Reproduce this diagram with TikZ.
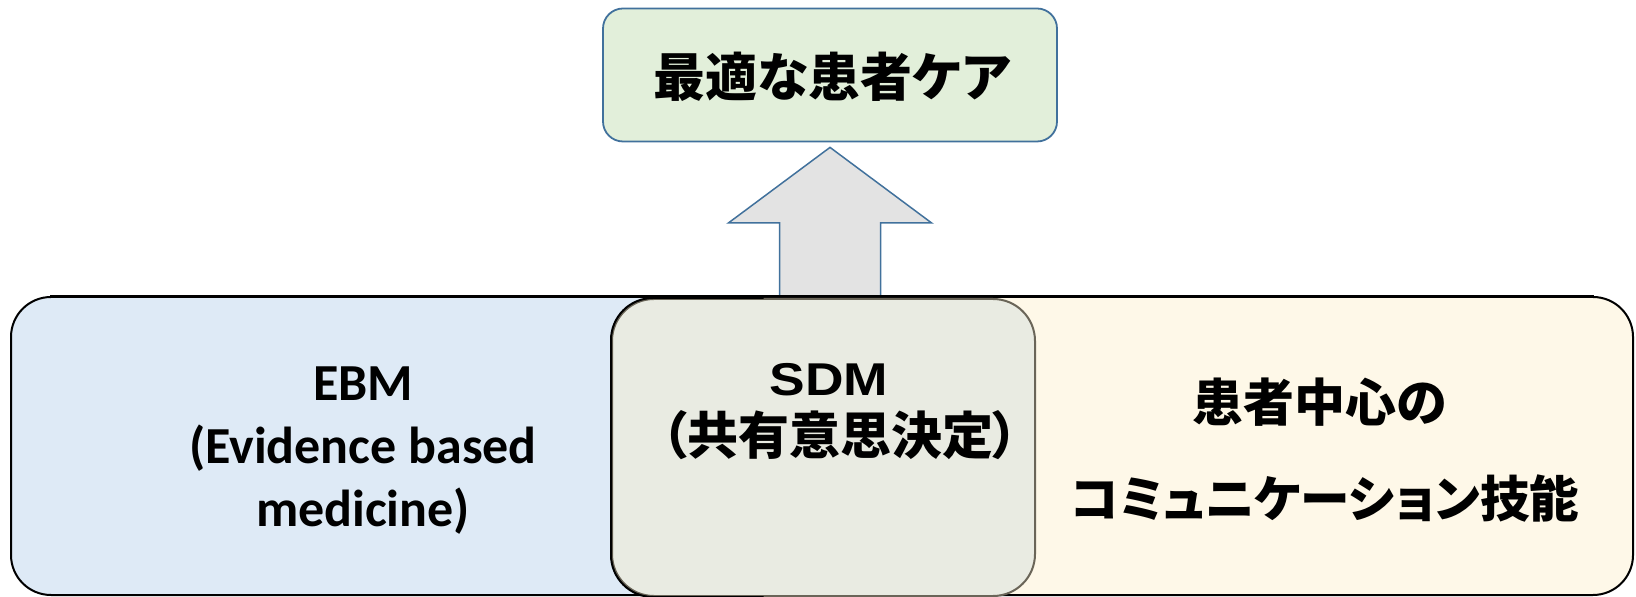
\documentclass[tikz,border=0pt]{standalone}
\usepackage{fontspec}
\usepackage{graphicx}
\newfontfamily\cjk[RawFeature=+palt]{Noto Sans CJK JP}
\newfontfamily\calib{Carlito}
\newfontfamily\libsans{Liberation Sans}
\usetikzlibrary{calc}
\definecolor{careFill}{HTML}{E2EFDA}
\definecolor{careLine}{HTML}{41719C}
\definecolor{arrowFill}{HTML}{E3E3E3}
\definecolor{ebmFill}{HTML}{DEEAF6}
\definecolor{pcFill}{HTML}{FEF8E8}
\definecolor{sdmFill}{HTML}{E9EBE2}
\definecolor{sdmLine}{HTML}{6A6558}
\tikzset{
  bigbox/.style={draw=black, line width=1pt, rounded corners=20pt, inner sep=0pt},
  label/.style={inner sep=0pt, align=center, text=black},
  cjkbig/.style={font=\cjk\bfseries\fontsize{26pt}{30pt}\selectfont},
}
\begin{document}
\begin{tikzpicture}[x=0.5pt,y=-0.5pt]
\useasboundingbox (0,0) rectangle (1636,597);
% top box
\node[draw=careLine, fill=careFill, line width=0.9pt, rounded corners=10pt,
      minimum width=227pt, minimum height=66.5pt, inner sep=0pt] (care) at (830,75) {};
\node[label, cjkbig] (caretxt) at ($(care.center)+(2,2)$) {最適な患者ケア};
% bottom boxes
\node[bigbox, fill=ebmFill, minimum width=444.5pt, minimum height=149pt] (ebm) at (455.5,446) {};
\node[bigbox, fill=pcFill, minimum width=466.5pt, minimum height=149pt] (pc) at (1166.5,446) {};
% arrow
\coordinate (atip) at ($(care.south)+(0,5)$);
\coordinate (abase) at (atip |- ebm.north);
\draw[draw=careLine, fill=arrowFill, line width=0.75pt]
  ($(abase)+(-50.5,0)$) -- ($(atip)+(-50.5,75.5)$) -- ($(atip)+(-101.5,75.5)$) -- (atip)
  -- ($(atip)+(101.5,75.5)$) -- ($(atip)+(50.5,75.5)$) -- ($(abase)+(50.5,0)$);
\draw[line width=1pt] (ebm.north west) ++(40,0) -- ($(pc.north east)+(-40,0)$);
% SDM box
\node[draw=sdmLine, fill=sdmFill, line width=1pt, rounded corners=21pt,
      minimum width=211.5pt, minimum height=148.5pt, inner sep=0pt] (sdm) at (823.5,447.5) {};
\draw[line width=1pt, rounded corners=21pt] ($(sdm.south)+(-60,0)$) -| (sdm.west) |- ($(sdm.north)+(-60,0)$);
% texts
\node[label, font=\calib\bfseries\fontsize{26pt}{31.5pt}\selectfont] (ebmtxt) at (363,451)
  {EBM\\(Evidence based\\medicine)};
\node[label, font=\libsans\bfseries\fontsize{23pt}{27pt}\selectfont] (sdmtxt1) at (829,380) {\scalebox{1.16}[1]{SDM}};
\node[label, font=\cjk\bfseries\fontsize{25.5pt}{28pt}\selectfont] (sdmtxt2) at (840,435) {（共有意思決定）};
\node[label, font=\cjk\bfseries\fontsize{25.5pt}{30pt}\selectfont] (pctxt1) at (1320,402) {患者中心の};
\node[label, font=\cjk\bfseries\fontsize{24.8pt}{30pt}\selectfont] (pctxt2) at (1325,499) {コミュニケーション技能};
\end{tikzpicture}
\end{document}
